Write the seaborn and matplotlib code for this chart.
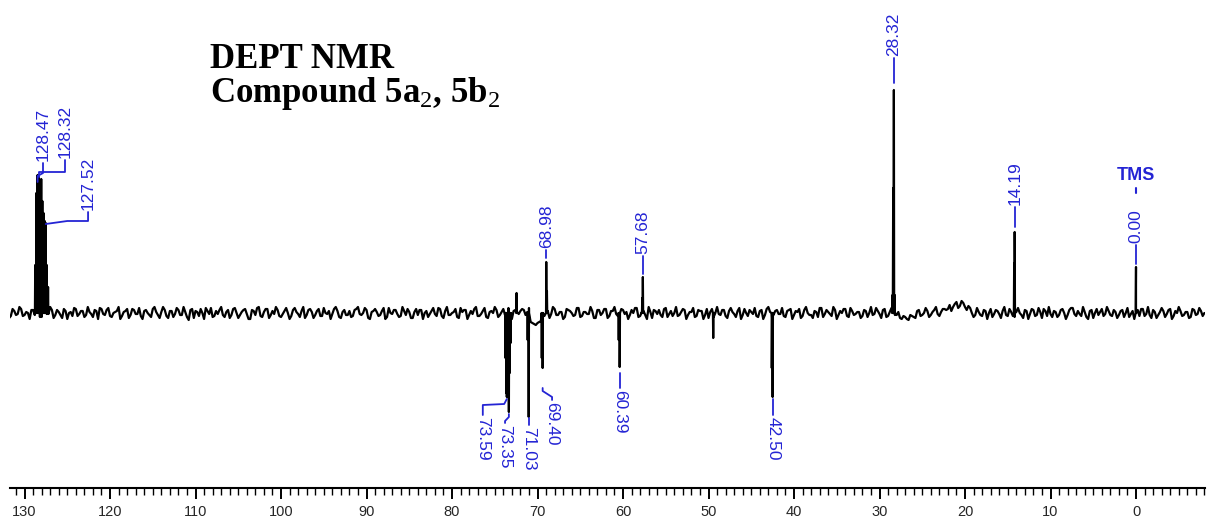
import numpy as np
import pandas as pd
import matplotlib
matplotlib.use("Agg")
import matplotlib.pyplot as plt
from matplotlib import font_manager as fm
from matplotlib.ticker import MultipleLocator
import seaborn as sns

# ---------------- data ----------------
# baseline noise, every 0.4 ppm from 132.0 ppm down to -8.0 ppm
noise_start = 132.0
noise_step = 0.4
noise = [
    1, -3, 2, -1, 4, -2, 0, 3, -2, 1, -4, 2, -1, 3, -2, 1, -5, 2, 0, -3, 4, -1, 2, -2, 1,
    -4, 2, 5, -1, 3, -3, 0, 2, -6, 1, 4, -2, 3, -1, -3, 2, 0, -4, 6, -2, 1, 3, -5, 2, -1,
    3, -2, 1, -7, 4, 2, -3, 0, 5, -1, -4, 2, 3, -2, 1, -5, 4, 0, -2, 3, -1, -6, 2, 5, -3,
    1, 4, -2, -1, 3, -4, 2, 0, -3, 5, -1, 2, -5, 3, 1, -2, 4, -3, 0, 2, -1, 6, -4, 1, -2,
    2, -3, 4, -1, 0, 3, -6, 2, 1, -2, 5, -4, 0, 3, -1, -3, 2, 4, -5, 1, -2, 3, 0, -4, 2,
    -1, 5, -3, 2, -2, 0, 4, -5, 1, 3, -2, -1, 6, -3, 2, -4, 1, 0, 3, -2, 4, -1, -3, 2, 1,
    2, 3, 1, -9, -11, -10, -8, -3, 2, -1, 4, -2, 1, -4, 3, 0, -2, 5, -3, 1, -1, 2, -5, 3, 0,
    4, -3, 2, -1, -4, 3, 1, -2, 0, 5, -3, 2, -6, 1, 3, -1, -2, 4, -4, 2, 0, -3, 1, 3, -2,
    1, -4, 3, 2, -2, -5, 4, 0, -1, 3, -3, 2, 1, -4, 5, -2, 0, 3, -1, -3, 2, -6, 4, 1, -2,
    3, -1, -3, 2, 4, -2, 1, -5, 3, 0, -2, 2, -4, 5, -1, 1, -3, 3, -2, 0, 4, -4, 2, -1, 1,
    -3, 2, 0, -2, 5, -1, 3, -4, 1, 2, -2, -5, -3, -6, -2, -4, 2, -3, 0, 2, -2, 3, -1, 1, 4,
    4, 2, 9, 5, 12, 6, 7, 0, -2, 1, -3, 2, 0, -4, 3, -1, 2, -2, 4, -3, 1, 0, -5, 2, -1,
    3, -2, 1, 4, -3, -1, 2, -4, 3, 0, -2, 5, -1, 2, -3, 1, -6, 3, 0, -2, 4, -1, 2, -3, 1,
    -2, 3, 0, -4, 2, 1, -3, 4, -1, -2, 3, -5, 1, 2, -1, 4, -3, 0, 2, -2, 1, -4, 3, -1, 2,
    0,
]
# baseline noise at the in-between points (131.8 ppm down to -7.8 ppm)
noise_mid_start = 131.8
noise_mid = [
    -5, 4, -2, 6, -3, 1, -6, 3, 5, -4, 2, -1, 6, -5, 3, -2, 4, -6, 1, 5, -3, 2, -4, 6, -1,
    3, -6, 4, -2, 5, -4, 1, 6, -3, 2, -5, 4, -1, 5, -6, 3, -2, 4, 1, -5, 6, -3, 2, -4, 5,
    -2, 6, -4, 3, -5, 1, 4, -6, 2, 5, -3, -1, 6, -4, 3, -2, 5, -5, 1, 4, -6, 3, -2, 6, -4,
    4, -5, 2, 6, -3, -1, 5, -6, 3, 1, -4, 6, -2, 4, -5, 2, -3, 5, -1, -6, 4, 2, -5, 3, -2,
    -4, 3, 6, -2, 5, -5, 1, 4, -3, 2, -6, 5, -1, 3, -4, 6, -2, 1, -5, 4, 3, -6, 2, -1, 5,
    -3, 4, -5, 6, -2, 1, -4, 5, 3, -6, 2, 4, -3, -1, 5, -5, 2, 6, -4, 1, -2, 5, -6, 3, -1,
    4, -2, 5, -10, -12, -9, -4, 3, -5, 6, -2, 1, -6, 4, 2, -3, 5, -4, 1, -1, 6, -5, 3, -2, 4,
    -5, 2, 6, -3, 4, -1, -6, 3, 5, -4, 1, -2, 6, -5, 2, 3, -4, 5, -1, -3, 6, -2, 4, -6, 1,
    5, -3, 2, -6, 4, 1, -4, 6, -2, 3, -5, 5, -1, 2, -6, 4, -3, 1, 5, -4, 3, -2, 6, -5, 2,
    -1, 5, -4, 3, -6, 2, 4, -3, 6, -2, -5, 1, 5, -4, 3, -1, 6, -6, 2, 4, -3, 5, -2, 1, -5,
    3, -4, 6, -1, 2, -5, 4, -3, 5, -2, 1, -6, -4, -7, -3, -5, 3, -2, 5, -4, 1, 6, -3, 4, 3,
    8, 6, 11, 7, 10, 3, 5, -4, 5, -2, 3, -6, 4, -1, 2, -5, 6, -3, 1, -4, 5, -2, 3, -6, 4,
    -3, 5, -5, 2, 6, -4, 1, -2, 4, -6, 3, 5, -3, -1, 6, -4, 2, -5, 4, 1, -3, 6, -2, 3, -5,
    2, -4, 5, -1, -6, 3, 4, -3, 6, -5, 1, -2, 5, -4, 3, -6, 2, 6, -3, 1, -5, 4, -2, 5, -3,
]

# resonances: chemical shift (ppm) and DEPT-135 intensity (CH/CH3 up, CH2 down)
peak_ppm = [128.75, 128.62, 128.47, 128.40, 128.32, 128.18, 128.05, 127.92, 127.78,
            127.64, 127.52, 127.40, 127.25,
            73.75, 73.65, 73.59, 73.52, 73.45, 73.35, 73.25, 73.15, 72.45,
            71.15, 71.03, 69.50, 69.40, 68.98, 68.90,
            60.50, 60.39, 57.75, 57.68, 49.45, 42.60, 42.50,
            28.48, 28.40, 28.32, 28.22, 14.25, 14.19, 0.00]
peak_int = [48, 120, 138, 130, 138, 126, 134, 112, 100,
            92, 90, 48, 26,
            -45, -80, -84, -82, -84, -99, -60, -30, 20,
            -27, -104, -45, -55, 51, 22,
            -27, -54, 15, 36, -25, -55, -84,
            18, 125, 223, 18, 50, 81, 46]

# labelled shifts
top_labels = [128.47, 128.32, 127.52, 68.98, 57.68, 28.32, 14.19, 0.00]
bottom_labels = [73.59, 73.35, 71.03, 69.40, 60.39, 42.50]

title_text = "DEPT NMR\n" + r"Compound 5a$_{\mathrm{2}}$, 5b$_{\mathrm{2}}$"
tms_text = "TMS"

# ---------------- label layout (text anchor + leader path) ----------------
top_layout = {
    128.47: dict(t=(127.84, 152), path=[(127.84, 150), (127.84, 140), (128.47, 137), (128.47, 131)]),
    128.32: dict(t=(125.26, 155), path=[(125.26, 153), (125.26, 141), (128.32, 141), (128.32, 136)]),
    127.52: dict(t=(122.57, 103), path=[(122.57, 101), (122.57, 92), (125.0, 92), (127.52, 89)]),
    68.98: dict(t=(68.98, 65), path=[(68.98, 63), (68.98, 55)]),
    57.68: dict(t=(57.68, 59), path=[(57.68, 57), (57.68, 39)]),
    28.32: dict(t=(28.32, 257), path=[(28.32, 255), (28.32, 230)]),
    14.19: dict(t=(14.19, 108), path=[(14.19, 106), (14.19, 86)]),
    0.00: dict(t=(0.00, 70), path=[(0.00, 68), (0.00, 49)]),
}
bottom_layout = {
    73.59: dict(t=(76.4, -104), path=[(73.59, -86), (73.9, -91), (76.4, -92), (76.4, -102)]),
    73.35: dict(t=(73.8, -112), path=[(73.35, -101), (73.35, -104), (73.8, -108), (73.8, -110)]),
    71.03: dict(t=(71.03, -114), path=[(71.03, -105), (71.03, -112)]),
    69.40: dict(t=(68.3, -89), path=[(69.40, -75), (69.40, -78), (68.3, -84), (68.3, -87)]),
    60.39: dict(t=(60.39, -77), path=[(60.39, -60), (60.39, -75)]),
    42.50: dict(t=(42.50, -104), path=[(42.50, -86), (42.50, -102)]),
}

# ---------------- build trace ----------------
ppm_all = list(noise_start - noise_step * np.arange(len(noise)))
ppm_all += list(noise_mid_start - noise_step * np.arange(len(noise_mid)))
int_all = list(noise) + list(noise_mid)
half = 0.035
for p, h in zip(peak_ppm, peak_int):
    ppm_all += [p - half, p, p + half]
    int_all += [0, h, 0]
spec = pd.DataFrame({"ppm": ppm_all, "intensity": int_all})

# ---------------- style ----------------
sns.set_theme(style="white")
avail = {f.name for f in fm.fontManager.ttflist}
narrow = "Liberation Sans Narrow" if "Liberation Sans Narrow" in avail else "Liberation Sans"
plt.rcParams["font.family"] = ["Liberation Sans", "DejaVu Sans"]
plt.rcParams["mathtext.fontset"] = "custom"
plt.rcParams["mathtext.rm"] = "Liberation Serif"
plt.rcParams["mathtext.it"] = "Liberation Serif:italic"
plt.rcParams["mathtext.bf"] = "Liberation Serif:bold"

blue = "#2424d4"

fig = plt.figure(figsize=(12.1, 5.2), dpi=100)
ax = fig.add_axes([10 / 1210, 32 / 520, 1195 / 1210, 488 / 520])

sns.lineplot(data=spec, x="ppm", y="intensity", estimator=None, sort=True,
             color="black", linewidth=1.6, ax=ax)

ax.set_xlim(131.7, -8.07)
ax.set_ylim(-175, 313)

for p in top_labels:
    lay = top_layout[p]
    xs, ys = zip(*lay["path"])
    ax.plot(xs, ys, color=blue, lw=1.3)
    ax.text(lay["t"][0], lay["t"][1], f"{p:.2f}", rotation=90, ha="center", va="bottom",
            color=blue, fontsize=12.5)
for p in bottom_labels:
    lay = bottom_layout[p]
    xs, ys = zip(*lay["path"])
    ax.plot(xs, ys, color=blue, lw=1.3)
    ax.text(lay["t"][0], lay["t"][1], f"{p:.2f}", rotation=-90, ha="center", va="top",
            color=blue, fontsize=12.5)

ax.text(0.0, 137, tms_text, ha="center", va="center", color=blue, fontsize=13,
        fontweight="bold", family=[narrow, "Liberation Sans"])
ax.plot([0.0, 0.0], [125, 120], color=blue, lw=1.5)

# axis
for s in ["left", "top", "right"]:
    ax.spines[s].set_visible(False)
ax.spines["bottom"].set_color("black")
ax.spines["bottom"].set_linewidth(1.5)
ax.set_yticks([])
ax.xaxis.set_major_locator(MultipleLocator(10))
ax.xaxis.set_minor_locator(MultipleLocator(1))
ax.tick_params(axis="x", which="major", direction="out", length=8, width=1.4,
               color="black", labelsize=10.5, pad=4, bottom=True)
ax.tick_params(axis="x", which="minor", direction="out", length=5, width=1.0,
               color="black", bottom=True)
for lab in ax.get_xticklabels():
    lab.set_family([narrow, "Liberation Sans"])
ax.set_xlabel("")
ax.set_ylabel("")
ax.grid(False)

fig.text(210 / 1210, 1 - 102 / 520, title_text, family=["Liberation Serif", "DejaVu Serif"],
         fontweight="bold", fontsize=25, va="baseline", ha="left", color="black",
         linespacing=0.95)

fig.savefig("out.png", dpi=100, facecolor="white")
